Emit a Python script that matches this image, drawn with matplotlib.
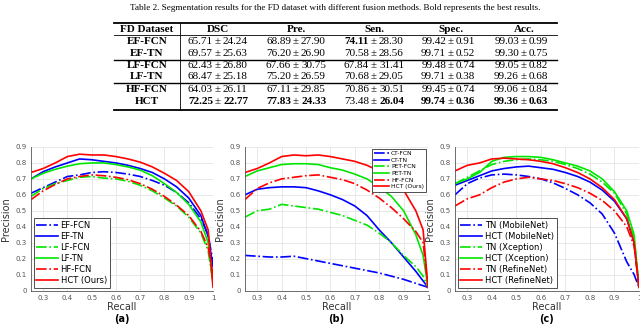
import matplotlib
matplotlib.use("Agg")
import matplotlib.pyplot as plt
from matplotlib.lines import Line2D

W, H = 640, 324

# ---- table data ----
caption = ("Table 2. Segmentation results for the FD dataset with different "
           "fusion methods. Bold represents the best results.")
col_header = ["FD Dataset", "DSC", "Pre.", "Sen.", "Spec.", "Acc."]
row_names = ["EF-FCN", "EF-TN", "LF-FCN", "LF-TN", "HF-FCN", "HCT"]
means = [
    ["65.71", "68.89", "74.11", "99.42", "99.03"],
    ["69.57", "76.20", "70.58", "99.71", "99.30"],
    ["62.43", "67.66", "67.84", "99.48", "99.05"],
    ["68.47", "75.20", "70.68", "99.71", "99.26"],
    ["64.03", "67.11", "70.86", "99.45", "99.06"],
    ["72.25", "77.83", "73.48", "99.74", "99.36"],
]
stds = [
    ["24.24", "27.90", "28.30", "0.91", "0.99"],
    ["25.63", "26.90", "28.56", "0.52", "0.75"],
    ["26.80", "30.75", "31.41", "0.74", "0.82"],
    ["25.18", "26.59", "29.05", "0.38", "0.68"],
    ["26.11", "29.85", "30.51", "0.74", "0.84"],
    ["22.77", "24.33", "26.04", "0.36", "0.63"],
]
# (row, col) -> which part is bold
bold_mean = {(0, 2), (5, 0), (5, 1), (5, 3), (5, 4)}
bold_std = {(5, 0), (5, 1), (5, 2), (5, 3), (5, 4)}

# ---- curve data ----
recall = [0.25, 0.30, 0.35, 0.40, 0.45, 0.50, 0.55, 0.60, 0.65, 0.70,
          0.75, 0.80, 0.85, 0.90, 0.95, 0.98, 1.00]

a_names = ["EF-FCN", "EF-TN", "LF-FCN", "LF-TN", "HF-FCN", "HCT (Ours)"]
a_prec = [
    [0.61, 0.645, 0.68, 0.715, 0.725, 0.74, 0.745, 0.74, 0.73, 0.715, 0.69, 0.66, 0.615, 0.55, 0.45, 0.35, 0.18],
    [0.70, 0.745, 0.775, 0.80, 0.825, 0.82, 0.81, 0.80, 0.785, 0.765, 0.74, 0.70, 0.65, 0.58, 0.47, 0.34, 0.15],
    [0.59, 0.64, 0.67, 0.69, 0.71, 0.715, 0.705, 0.70, 0.685, 0.66, 0.625, 0.58, 0.53, 0.46, 0.36, 0.25, 0.05],
    [0.70, 0.735, 0.76, 0.78, 0.795, 0.80, 0.80, 0.79, 0.775, 0.755, 0.72, 0.67, 0.615, 0.54, 0.43, 0.30, 0.05],
    [0.57, 0.625, 0.665, 0.70, 0.715, 0.725, 0.72, 0.71, 0.695, 0.67, 0.635, 0.59, 0.535, 0.47, 0.37, 0.27, 0.10],
    [0.74, 0.765, 0.80, 0.84, 0.855, 0.85, 0.85, 0.84, 0.825, 0.805, 0.775, 0.735, 0.69, 0.62, 0.50, 0.38, 0.02],
]
b_names = ["CT-FCN", "CT-TN", "PET-FCN", "PET-TN", "HF-FCN", "HCT (Ours)"]
b_prec = [
    [0.22, 0.215, 0.21, 0.21, 0.215, 0.20, 0.185, 0.17, 0.155, 0.14, 0.125, 0.11, 0.09, 0.07, 0.045, 0.03, 0.02],
    [0.60, 0.635, 0.645, 0.65, 0.65, 0.645, 0.625, 0.60, 0.57, 0.53, 0.47, 0.38, 0.30, 0.21, 0.12, 0.06, 0.02],
    [0.46, 0.50, 0.51, 0.54, 0.53, 0.52, 0.51, 0.49, 0.47, 0.44, 0.41, 0.36, 0.30, 0.22, 0.15, 0.09, 0.02],
    [0.715, 0.75, 0.77, 0.79, 0.795, 0.795, 0.79, 0.77, 0.755, 0.73, 0.70, 0.65, 0.59, 0.50, 0.35, 0.22, 0.02],
    [0.57, 0.64, 0.675, 0.70, 0.71, 0.72, 0.725, 0.71, 0.695, 0.67, 0.63, 0.58, 0.52, 0.45, 0.37, 0.30, 0.02],
    [0.74, 0.765, 0.80, 0.84, 0.85, 0.845, 0.85, 0.84, 0.825, 0.81, 0.785, 0.75, 0.70, 0.63, 0.50, 0.38, 0.02],
]
c_names = ["TN (MobileNet)", "HCT (MobileNet)", "TN (Xception)", "HCT (Xception)",
           "TN (RefineNet)", "HCT (RefineNet)"]
c_prec = [
    [0.60, 0.67, 0.705, 0.725, 0.73, 0.725, 0.715, 0.70, 0.675, 0.64, 0.60, 0.55, 0.48, 0.36, 0.18, 0.10, 0.02],
    [0.66, 0.69, 0.72, 0.75, 0.765, 0.775, 0.78, 0.77, 0.76, 0.74, 0.715, 0.68, 0.63, 0.56, 0.45, 0.30, 0.02],
    [0.67, 0.71, 0.75, 0.79, 0.81, 0.82, 0.825, 0.82, 0.81, 0.79, 0.765, 0.73, 0.68, 0.61, 0.48, 0.33, 0.02],
    [0.67, 0.70, 0.74, 0.81, 0.835, 0.84, 0.84, 0.835, 0.82, 0.80, 0.78, 0.75, 0.70, 0.62, 0.50, 0.35, 0.02],
    [0.53, 0.575, 0.60, 0.645, 0.68, 0.70, 0.71, 0.70, 0.69, 0.67, 0.645, 0.61, 0.565, 0.50, 0.40, 0.28, 0.02],
    [0.75, 0.785, 0.80, 0.825, 0.83, 0.825, 0.82, 0.81, 0.795, 0.77, 0.74, 0.70, 0.645, 0.57, 0.45, 0.30, 0.02],
]

# MATLAB-style pure colours: blue, green, red; dash-dot for the baselines
colors = ["#0000ff", "#0000ff", "#00e600", "#00e600", "#ff0000", "#ff0000"]
styles = ["-.", "-", "-.", "-", "-.", "-"]

fig = plt.figure(figsize=(W / 100, H / 100), dpi=100)


def fx(x):
    return x / W


def fy(y):
    return 1 - y / H


def hline(y, x0, x1, lw):
    fig.add_artist(Line2D([fx(x0), fx(x1)], [fy(y), fy(y)], color="black", lw=lw,
                          transform=fig.transFigure))


serif = "Liberation Serif"
fig.text(fx(335), fy(8), caption, ha="center", va="center", fontsize=6.6,
         family=serif)

tx0, tx1 = 114, 557
hline(23, tx0, tx1, 1.3)
hline(35, tx0, tx1, 0.6)
hline(59.5, tx0, tx1, 1.0)
hline(83.5, tx0, tx1, 1.0)
hline(110, tx0, tx1, 1.3)
fig.add_artist(Line2D([fx(180), fx(180)], [fy(23), fy(110)], color="black", lw=0.6,
                      transform=fig.transFigure))

col_x = [147, 218, 296, 374, 451, 524]
row_y = [42, 53, 66, 77, 90, 101]
fs = 8
for j, name in enumerate(col_header):
    fig.text(fx(col_x[j]), fy(29), name, ha="center", va="center", fontsize=fs,
             family=serif, weight="bold")
for i, name in enumerate(row_names):
    fig.text(fx(col_x[0]), fy(row_y[i]), name, ha="center", va="center",
             fontsize=fs, family=serif, weight="bold")
    for j in range(5):
        cx = col_x[j + 1]
        y = fy(row_y[i])
        fig.text(fx(cx - 5), y, means[i][j], ha="right", va="center", fontsize=fs,
                 family=serif,
                 weight="bold" if (i, j) in bold_mean else "normal")
        fig.text(fx(cx), y, "\u00b1", ha="center", va="center", fontsize=fs,
                 family=serif)
        fig.text(fx(cx + 5), y, stds[i][j], ha="left", va="center", fontsize=fs,
                 family=serif,
                 weight="bold" if (i, j) in bold_std else "normal")


def pr_panel(left, width, names, prec, tag, legend_loc, legend_fs):
    ax = fig.add_axes([fx(left), 1 - 290.5 / H, fx(width), 143.5 / H])
    for k in range(len(names)):
        ax.plot(recall, prec[k], color=colors[k], linestyle=styles[k], lw=1.2,
                label=names[k])
    ax.set_xlim(0.25, 1)
    ax.set_ylim(0, 0.9)
    ax.set_xticks([0.3, 0.4, 0.5, 0.6, 0.7, 0.8, 0.9, 1.0])
    ax.set_xticklabels(["0.3", "0.4", "0.5", "0.6", "0.7", "0.8", "0.9", "1"])
    ax.set_yticks([0, 0.1, 0.2, 0.3, 0.4, 0.5, 0.6, 0.7, 0.8, 0.9])
    ax.set_yticklabels(["0", "0.1", "0.2", "0.3", "0.4", "0.5", "0.6", "0.7",
                        "0.8", "0.9"])
    ax.tick_params(labelsize=5, colors="#555555", length=0, pad=3)
    ax.grid(True, color="#e4e4e4", lw=0.6)
    ax.set_axisbelow(True)
    for s in ["top", "right"]:
        ax.spines[s].set_visible(False)
    for s in ["left", "bottom"]:
        ax.spines[s].set_color("#555555")
        ax.spines[s].set_linewidth(0.6)
    ax.set_xlabel("Recall", fontsize=7, color="#333333", labelpad=1)
    ax.set_ylabel("Precision", fontsize=7, color="#333333", labelpad=3)
    leg = ax.legend(loc=legend_loc, fontsize=legend_fs, handlelength=2.6,
                    labelspacing=0.25, borderpad=0.35, fancybox=False,
                    framealpha=1, edgecolor="#333333", handletextpad=0.3,
                    borderaxespad=0.3)
    leg.get_frame().set_linewidth(0.6)
    fig.text(fx(left + width / 2), fy(319), tag, ha="center", va="center",
             fontsize=7, weight="bold")
    return ax


pr_panel(31, 182, a_names, a_prec, "(a)", "lower left", 6)
pr_panel(245, 183, b_names, b_prec, "(b)", "upper right", 4.3)
pr_panel(455, 184, c_names, c_prec, "(c)", "lower left", 6)

fig.savefig("out.png", dpi=100)
